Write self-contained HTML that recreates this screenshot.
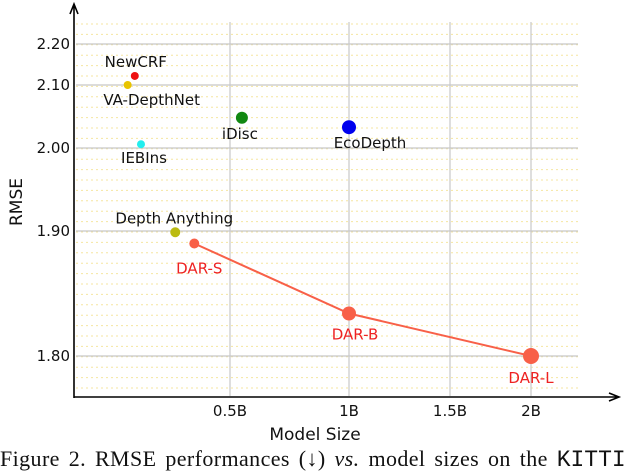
<!DOCTYPE html>
<html><head><meta charset="utf-8"><style>
body{margin:0;background:#fff;width:640px;height:473px;overflow:hidden;font-family:"DejaVu Sans","Liberation Sans",sans-serif}
svg{position:absolute;left:0;top:0}
#cap{position:absolute;left:0px;top:446px;font-family:"Liberation Serif",serif;font-size:22px;letter-spacing:0.4px;word-spacing:3px;white-space:nowrap;color:#111}
</style></head><body>
<svg id="chart" width="640" height="473" xmlns="http://www.w3.org/2000/svg"></svg>
<div id="cap">Figure 2. RMSE performances (↓) <i>vs.</i> model sizes on the <span style="font-family:'Liberation Mono',monospace;font-size:23px;letter-spacing:0">KITTI</span></div>
<script>
const names=["NewCRF","VA-DepthNet","iDisc","EcoDepth","IEBIns","Depth Anything","DAR-S","DAR-B","DAR-L"];
const sizes=[0.10,0.07,0.55,1.0,0.126,0.27,0.35,1.0,2.0];
const rmse=[2.122,2.10,2.048,2.033,2.006,1.899,1.890,1.834,1.80];
const colors=["#ee1111","#e8c400","#118811","#0000ee","#22eeee","#bbbb11","#f86048","#f86048","#f86048"];
const radii=[4,4,6,7,4,5,5,7,8];
const darLine=[6,7,8];
const yTicks=[1.80,1.90,2.00,2.10,2.20];
const yTickLabels=["1.80","1.90","2.00","2.10","2.20"];
const xTicks=[0.5,1,1.5,2];
const xTickLabels=["0.5B","1B","1.5B","2B"];
const yPx=[356,231,148,85,44], xPx=[230,349,450,531];
function pw(v,d,p){let i=0;if(v<=d[0])i=0;else if(v>=d[d.length-1])i=d.length-2;else while(v>d[i+1])i++;return p[i]+(v-d[i])*(p[i+1]-p[i])/(d[i+1]-d[i]);}
const X=v=>pw(v,xTicks,xPx), Y=v=>pw(v,yTicks,yPx);
const svg=document.getElementById('chart'),NS="http://www.w3.org/2000/svg";
function mk(t,a,txt){const e=document.createElementNS(NS,t);for(const k in a)e.setAttribute(k,a[k]);if(txt!=null)e.textContent=txt;svg.appendChild(e);return e;}
for(let y=24;y<396;y+=10.4){const e=mk('line',{x1:76,x2:578,y1:y,y2:y,stroke:'#f5e6a0','stroke-width':1,'stroke-dasharray':'2,3'});
}
yTicks.forEach((t,i)=>{const e=mk('line',{x1:76,x2:578,y1:Y(t),y2:Y(t),stroke:'#c8c8c8','stroke-width':1.2});

const l=mk('text',{x:70,y:Y(t)+5,'text-anchor':'end','font-size':15,fill:'#111'},yTickLabels[i]);
});
xTicks.forEach((t,i)=>{const e=mk('line',{x1:X(t),x2:X(t),y1:22,y2:396,stroke:'#c8c8c8','stroke-width':1.2});

const l=mk('text',{x:X(t),y:416,'text-anchor':'middle','font-size':15,fill:'#111'},xTickLabels[i]);
});
let a=mk('path',{d:'M74,398V6 M70,14L74,4L78,14',stroke:'#000','stroke-width':1.6,fill:'none'});
a=mk('path',{d:'M74,397H617 M609,393L619,397L609,401',stroke:'#000','stroke-width':1.6,fill:'none'});
a=mk('text',{x:315,y:440,'text-anchor':'middle','font-size':17,fill:'#111'},'Model Size');
a=mk('text',{x:22,y:202,'text-anchor':'middle','font-size':17,fill:'#111',transform:'rotate(-90 22 202)'},'RMSE');
const pl=mk('polyline',{points:darLine.map(i=>X(sizes[i])+','+Y(rmse[i])).join(' '),fill:'none',stroke:'#f86048','stroke-width':2});

const lo=[[1,-9],[24,20],[-2,21],[21,21],[3,19],[-1,-9],[5,30],[6,26],[0,27]];
names.forEach((n,i)=>{const cx=X(sizes[i]),cy=Y(rmse[i]);
const c=mk('circle',{cx:cx,cy:cy,r:radii[i],fill:colors[i]});

const t=mk('text',{x:cx+lo[i][0],y:cy+lo[i][1],'text-anchor':'middle','font-size':15,fill:i>=6?'#ee2222':'#111'},n);
});
</script>
</body></html>
